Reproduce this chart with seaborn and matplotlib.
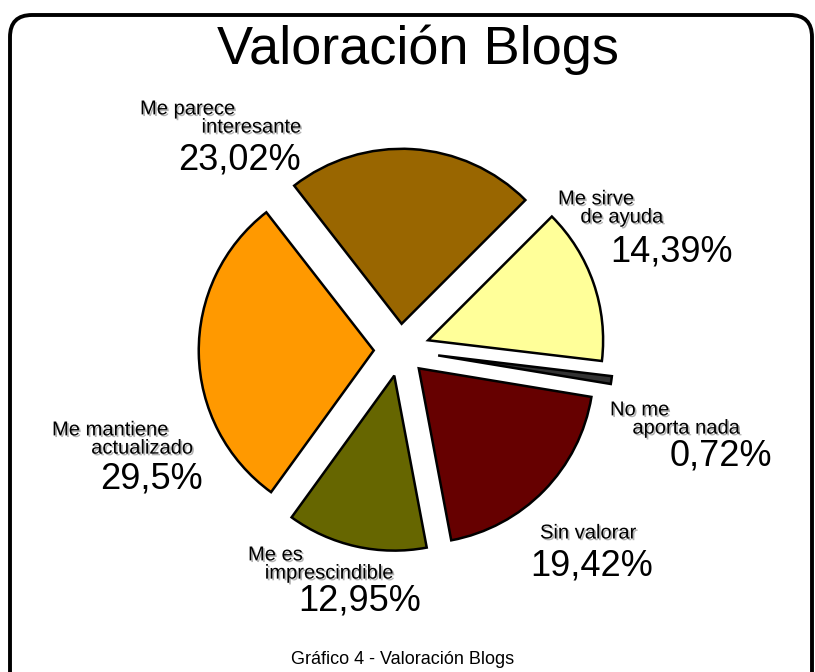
import matplotlib
matplotlib.use("Agg")
import matplotlib.pyplot as plt
import matplotlib.patches as mpatches
import matplotlib.transforms as mtransforms
import matplotlib.patheffects as pe
import seaborn as sns

# data, clockwise from the upper right
categories = ["Me sirve de ayuda", "No me aporta nada", "Sin valorar",
              "Me es imprescindible", "Me mantiene actualizado", "Me parece interesante"]
values = [14.39, 0.72, 19.42, 12.95, 29.5, 23.02]
pct_labels = ["14,39%", "0,72%", "19,42%", "12,95%", "29,5%", "23,02%"]
name_labels = ["Me sirve\n    de ayuda", "No me\n    aporta nada", "Sin valorar",
               "Me es\n   imprescindible", "Me mantiene\n       actualizado",
               "Me parece\n           interesante"]
colors = ["#FFFF99", "#333333", "#660000", "#666600", "#FF9900", "#996600"]
explode = [0.17, 0.22, 0.15, 0.15, 0.15, 0.15]

sns.set_theme(style="white")
plt.rcParams["font.family"] = ["Liberation Sans", "DejaVu Sans"]
plt.rcParams["text.color"] = "black"

W, H = 815, 672
fig = plt.figure(figsize=(W / 100, H / 100), dpi=100)
fig.patch.set_facecolor("white")

# rounded frame around the whole chart
frame = mpatches.FancyBboxPatch((10, -30), 802, H - 15 + 30,
                                boxstyle="round,pad=0,rounding_size=22",
                                transform=mtransforms.IdentityTransform(),
                                fill=False, edgecolor="black", lw=2.8)
fig.add_artist(frame)

# pie axes: centre at (400, 350) px, radius 175 px
cx, cy, half = 400, 350, 250
ax = fig.add_axes([(cx - half) / W, (H - cy - half) / H, 2 * half / W, 2 * half / H])
ax.pie(values, colors=colors, explode=explode, startangle=45, counterclock=False,
       wedgeprops=dict(edgecolor="black", linewidth=1.8))
lim = half / 175
ax.set_xlim(-lim, lim)
ax.set_ylim(-lim, lim)
ax.set_aspect("equal")
ax.axis("off")

shadow = [pe.withSimplePatchShadow(offset=(1.2, -1.2), shadow_rgbFace="gray", alpha=0.6)]

def ftext(x, y, s, **kw):
    fig.text(x / W, 1 - y / H, s, **kw)

# label layout in pixels: (name x, name y, pct x, pct y)
layout = [(558, 208, 610, 252),
          (610, 419, 670, 456),
          (540, 533, 530, 566),
          (248, 564, 298, 601),
          (52, 439, 100, 479),
          (140, 118, 178, 160)]

for (nx, ny, px, py), name, pct in zip(layout, name_labels, pct_labels):
    ftext(nx, ny, name, fontsize=14.5, ha="left", va="center", linespacing=0.95,
          color="black", path_effects=shadow)
    ftext(px, py, pct, fontsize=26, ha="left", va="center", color="black")

ftext(W / 2 + 10, 50, "Valoración Blogs", fontsize=39, ha="center", va="center",
      color="black")
ftext(403, 660, "Gráfico 4 - Valoración Blogs", fontsize=13, ha="center", va="center",
      color="black")

fig.savefig("out.png", dpi=100, facecolor="white")
